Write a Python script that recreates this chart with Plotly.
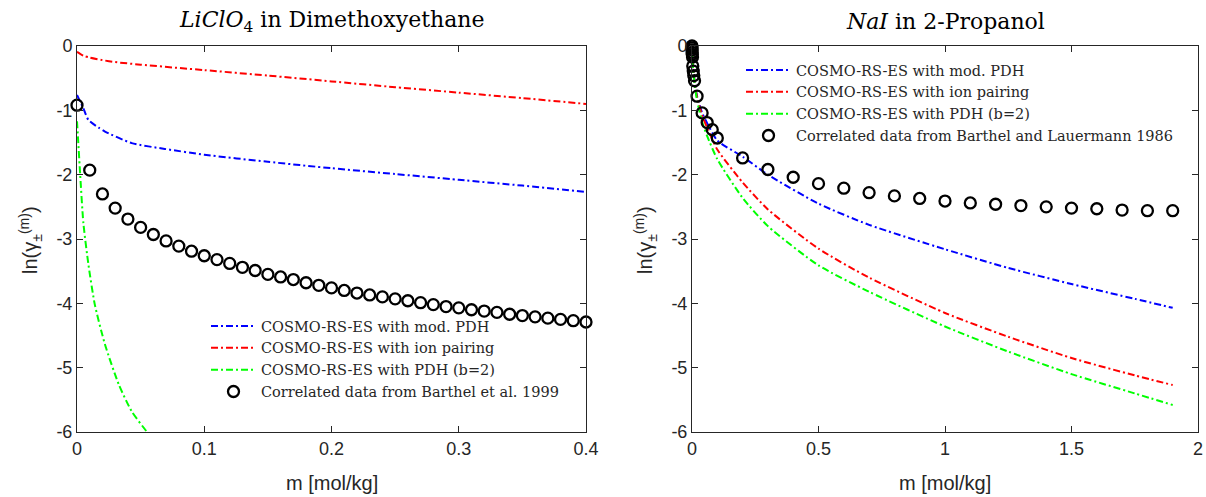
import plotly.graph_objects as go

# ---------------- Left panel: LiClO4 in Dimethoxyethane ----------------
m_l_mod = [0, 0.005, 0.009, 0.017, 0.022, 0.043, 0.069, 0.1, 0.15, 0.2, 0.25, 0.3, 0.35, 0.4]
ln_l_mod = [-0.76, -0.97, -1.15, -1.27, -1.33, -1.51, -1.6, -1.69, -1.8, -1.9, -1.99, -2.08, -2.17, -2.27]

m_l_ip = [0, 0.005, 0.01, 0.02, 0.03, 0.05, 0.1, 0.15, 0.2, 0.25, 0.3, 0.35, 0.4]
ln_l_ip = [-0.09, -0.15, -0.18, -0.22, -0.25, -0.29, -0.375, -0.46, -0.55, -0.64, -0.725, -0.81, -0.9]

m_l_pdh = [0, 0.001, 0.0025, 0.005, 0.009, 0.014, 0.022, 0.033, 0.043, 0.055, 0.06]
ln_l_pdh = [-1.17, -1.5, -2.0, -2.75, -3.4, -4.02, -4.64, -5.27, -5.68, -6.0, -6.13]

m_l_exp = [round(0.01 * i, 2) for i in range(41)]
ln_l_exp = [-0.92, -1.93, -2.3, -2.52, -2.69, -2.82, -2.93, -3.03, -3.11, -3.19,
            -3.26, -3.32, -3.38, -3.44, -3.49, -3.55, -3.59, -3.63, -3.68, -3.72,
            -3.76, -3.8, -3.84, -3.87, -3.9, -3.93, -3.96, -3.99, -4.02, -4.05,
            -4.07, -4.1, -4.12, -4.14, -4.17, -4.19, -4.21, -4.23, -4.25, -4.27, -4.29]

# ---------------- Right panel: NaI in 2-Propanol ----------------
m_r_grid = [0, 0.001, 0.005, 0.01, 0.02, 0.04, 0.06, 0.1, 0.2, 0.3, 0.5, 0.7, 1.0, 1.25, 1.5, 1.75, 1.9]
ln_r_mod = [0, -0.15, -0.38, -0.54, -0.78, -1.04, -1.2, -1.47, -1.72, -2.0, -2.45, -2.78, -3.16, -3.45, -3.7, -3.93, -4.07]
ln_r_ip = [0, -0.15, -0.38, -0.55, -0.8, -1.08, -1.27, -1.61, -2.12, -2.54, -3.15, -3.6, -4.15, -4.52, -4.85, -5.12, -5.27]
ln_r_pdh = [0, -0.16, -0.4, -0.58, -0.85, -1.18, -1.4, -1.76, -2.36, -2.8, -3.41, -3.82, -4.36, -4.75, -5.1, -5.4, -5.58]

m_r_exp = [0, 0.0001, 0.0003, 0.0006, 0.001, 0.002, 0.003, 0.005, 0.007, 0.01, 0.02, 0.04, 0.06, 0.08,
           0.1, 0.2, 0.3, 0.4, 0.5, 0.6, 0.7, 0.8, 0.9, 1.0, 1.1, 1.2, 1.3, 1.4, 1.5, 1.6, 1.7, 1.8, 1.9]
ln_r_exp = [0, -0.03, -0.06, -0.1, -0.13, -0.17, -0.31, -0.39, -0.46, -0.54, -0.78, -1.04, -1.19, -1.3,
            -1.43, -1.74, -1.92, -2.04, -2.14, -2.21, -2.28, -2.33, -2.37, -2.41, -2.44, -2.46, -2.48,
            -2.5, -2.52, -2.53, -2.55, -2.56, -2.56]

# Labels
names_left = ["COSMO-RS-ES with mod. PDH", "COSMO-RS-ES with ion pairing",
              "COSMO-RS-ES with PDH (b=2)", "Correlated data from Barthel et al. 1999"]
names_right = ["COSMO-RS-ES with mod. PDH", "COSMO-RS-ES with ion pairing",
               "COSMO-RS-ES with PDH (b=2)", "Correlated data from Barthel and Lauermann 1986"]
x_ticks_left = [0, 0.1, 0.2, 0.3, 0.4]
x_ticks_right = [0, 0.5, 1, 1.5, 2]
y_ticks = [0, -1, -2, -3, -4, -5, -6]

W, H = 1206, 497
DASH = "7px,3px,2px,3px"
AX = "#262626"
SERIF = "DejaVu Serif"
SANS = "Liberation Sans"

fig = go.Figure()

def add_panel(xa, ya, leg, curves, exp, names):
    for (mx, ly, col), nm in zip(curves, names[:3]):
        fig.add_trace(go.Scatter(x=mx, y=ly, mode="lines", name=nm, xaxis=xa, yaxis=ya,
                                 legend=leg, line=dict(color=col, width=2, dash=DASH,
                                                       shape="spline", smoothing=0.6)))
    fig.add_trace(go.Scatter(x=exp[0], y=exp[1], mode="markers", name=names[3], xaxis=xa, yaxis=ya,
                             legend=leg, cliponaxis=False,
                             marker=dict(symbol="circle-open", size=11, color="black",
                                         line=dict(color="black", width=2.3))))

add_panel("x", "y", "legend",
          [(m_l_mod, ln_l_mod, "#0000ff"), (m_l_ip, ln_l_ip, "#ff0000"), (m_l_pdh, ln_l_pdh, "#00ff00")],
          (m_l_exp, ln_l_exp), names_left)
add_panel("x2", "y2", "legend2",
          [(m_r_grid, ln_r_mod, "#0000ff"), (m_r_grid, ln_r_ip, "#ff0000"), (m_r_grid, ln_r_pdh, "#00ff00")],
          (m_r_exp, ln_r_exp), names_right)

def px_x(p):
    return p / W

def px_y(p):
    return 1 - p / H

ydom = [px_y(432), px_y(46)]
xdom_l = [px_x(77), px_x(586)]
xdom_r = [px_x(692), px_x(1198)]

common_ax = dict(showline=True, linecolor=AX, linewidth=1, mirror="ticks", ticks="inside",
                 ticklen=6, tickcolor=AX, showgrid=False, zeroline=False,
                 tickfont=dict(family=SANS, size=18, color=AX), automargin=False)

LEGFONT = dict(family=SERIF, size=14.5, color=AX)

fig.update_layout(
    width=W, height=H,
    margin=dict(l=0, r=0, t=0, b=0),
    paper_bgcolor="white", plot_bgcolor="white",
    xaxis=dict(domain=xdom_l, range=[0, 0.4], anchor="y", tickvals=x_ticks_left,
               ticktext=[f"{v:g}" for v in x_ticks_left], **common_ax),
    yaxis=dict(domain=ydom, range=[-6, 0], anchor="x", tickvals=y_ticks,
               ticktext=[f"{v:d}" for v in y_ticks], **common_ax),
    xaxis2=dict(domain=xdom_r, range=[0, 2], anchor="y2", tickvals=x_ticks_right,
                ticktext=[f"{v:g}" for v in x_ticks_right], **common_ax),
    yaxis2=dict(domain=ydom, range=[-6, 0], anchor="x2", tickvals=y_ticks,
                ticktext=[f"{v:d}" for v in y_ticks], **common_ax),
    legend=dict(x=px_x(206), y=px_y(310), xanchor="left", yanchor="top",
                bgcolor="rgba(0,0,0,0)", borderwidth=0, itemwidth=45, tracegroupgap=0,
                font=LEGFONT),
    legend2=dict(x=px_x(741), y=px_y(54), xanchor="left", yanchor="top",
                 bgcolor="rgba(0,0,0,0)", borderwidth=0, itemwidth=45, tracegroupgap=0,
                 font=LEGFONT),
    showlegend=True,
)

ann = []
ann.append(dict(text="<i>LiClO</i><sub>4</sub> in Dimethoxyethane", x=sum(xdom_l) / 2, y=px_y(22),
                xref="paper", yref="paper", showarrow=False, xanchor="center", yanchor="middle",
                font=dict(family=SERIF, size=22, color="black")))
ann.append(dict(text="<i>NaI</i> in 2-Propanol", x=sum(xdom_r) / 2, y=px_y(22),
                xref="paper", yref="paper", showarrow=False, xanchor="center", yanchor="middle",
                font=dict(family=SERIF, size=22, color="black")))
for xd in (xdom_l, xdom_r):
    ann.append(dict(text="m [mol/kg]", x=sum(xd) / 2, y=px_y(483), xref="paper", yref="paper",
                    showarrow=False, xanchor="center", yanchor="middle",
                    font=dict(family=SANS, size=20, color=AX)))
for xp in (30, 645):
    ann.append(dict(text="ln(γ<sub>±</sub><sup>(m)</sup>)", x=px_x(xp), y=px_y(240), xref="paper",
                    yref="paper", showarrow=False, xanchor="center", yanchor="middle", textangle=-90,
                    font=dict(family=SANS, size=20, color=AX)))
fig.update_layout(annotations=ann)

fig.write_html("out.html", config={"displayModeBar": False},
               post_script="document.body.style.margin='0';document.body.style.overflow='hidden';")
